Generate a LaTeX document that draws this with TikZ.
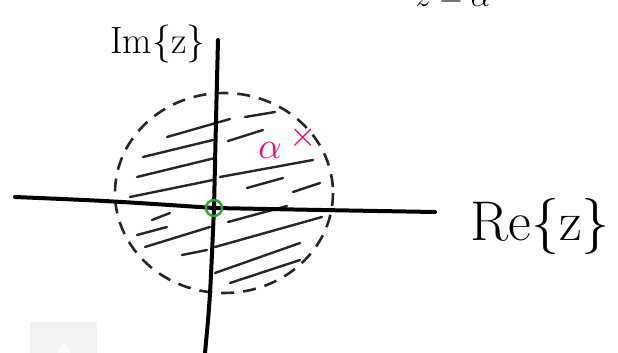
\documentclass[tikz,border=0pt]{standalone}
\usetikzlibrary{calc}
\begin{document}
\begin{tikzpicture}[x=1pt,y=-1pt,
  axis/.style={line width=4pt,line cap=round,black},
  hatch/.style={line width=2.4pt,line cap=round,black!85},
  bound/.style={line width=2.6pt,dash pattern=on 13pt off 9pt,black!85},
  lab/.style={inner sep=0pt,anchor=center},
  pink/.style={lab,text=magenta!80!red,font=\fontsize{20}{20}\selectfont}]
\useasboundingbox (0,0) rectangle (618,353);
\fill[white] (0,0) rectangle (618,353);
% faint overlay box
\fill[gray!10] (30,322) rectangle (97,353);
\fill[gray!4] (57,353) -- (64,343) -- (71,353) -- cycle;
% partial title at top (cut off by the page edge, as in the reference)
\node[inner sep=0pt,anchor=base,font=\fontsize{20}{20}\selectfont,scale=1.5] (title) at (453,7) {$z=\alpha$};
% hatching
\foreach \a/\b in {
 {167,137}/{230,119}, {143,157}/{213,140}, {228,141}/{263,130}, {245,117}/{275,112},
 {137,177}/{215,158}, {220,177}/{313,160}, {130,197}/{213,180}, {247,188}/{283,178},
 {293,192}/{320,183}, {152,220}/{170,213}, {137,235}/{167,227}, {228,222}/{287,206},
 {145,247}/{210,227}, {215,247}/{322,217}, {182,255}/{207,250}, {215,273}/{300,243},
 {230,283}/{300,260}}
 \draw[hatch] (\a) -- (\b);
% dashed boundary circle
\draw[bound] (224,193) ellipse [x radius=109, y radius=100];
% axes
\coordinate (xl) at (15,197);
\coordinate (xr) at (435,212);
\coordinate (yt) at (218,40);
\coordinate (yb) at (205,353);
\coordinate (o) at (214,208);
\draw[axis] (xl) .. controls (110,201) .. (o) .. controls (320,210) .. (xr);
\draw[axis] (yt) .. controls (216,120) .. (o) .. controls (210,300) .. (yb);
% origin marker
\draw[line width=2.4pt,green!55!black!80] (o) circle [radius=8];
% alpha marker
\node[pink,scale=1.8] (alpha) at (270,150) {$\alpha$};
\node[pink,scale=1.7] (cross) at (303,138) {$\times$};
% labels
\node[lab,font=\fontsize{38}{38}\selectfont] (im) at (158,44) {Im\{z\}};
\node[lab,font=\fontsize{56}{56}\selectfont] (re) at (540,226) {Re\{z\}};
\end{tikzpicture}
\end{document}
